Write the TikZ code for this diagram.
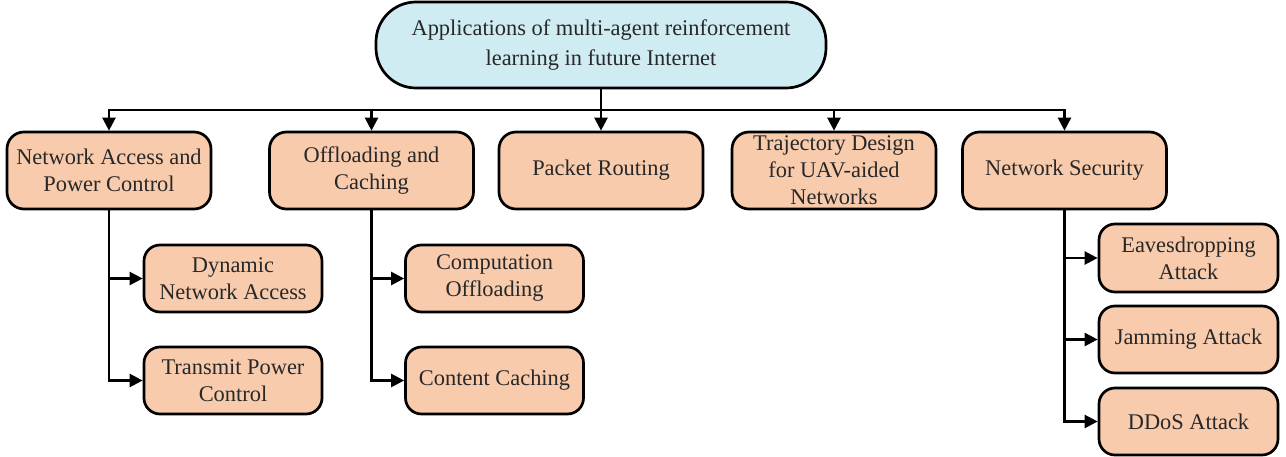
\documentclass[tikz,border=0pt]{standalone}
\usepackage{fontspec}
\setmainfont{Liberation Serif}
\usetikzlibrary{arrows.meta}
\definecolor{rootfill}{RGB}{208,236,243}
\definecolor{boxfill}{RGB}{248,203,173}
\definecolor{txt}{RGB}{40,40,40}
\tikzset{
  base/.style={draw=black, line width=2.7pt, align=center, text=txt, inner sep=2pt,
    font=\fontsize{22.4}{27}\selectfont},
  rootbox/.style={base, fill=rootfill, rounded corners=40pt, minimum width=450pt, minimum height=86pt,
    font=\fontsize{22.4}{30}\selectfont},
  topbox/.style={base, fill=boxfill, rounded corners=17pt, minimum width=204pt, minimum height=77pt},
  subbox/.style={base, fill=boxfill, rounded corners=16pt, minimum width=178pt, minimum height=67pt},
  conn/.style={draw=black, line width=2.4pt},
  arr/.style={conn, -{Triangle[length=13pt,width=13pt]}}
}
\begin{document}
\begin{tikzpicture}[x=1pt,y=-1pt]
\useasboundingbox (0,0) rectangle (1286,457);
\node[rootbox] (root) at (601,45) {Applications of multi-agent reinforcement\\learning in future Internet};
\node[topbox] (c1) at (109,170.5) {Network Access and\\Power Control};
\node[topbox] (c2) at (371.5,170.5) {Offloading and\\Caching};
\node[topbox] (c3) at (601,170.5) {Packet Routing};
\node[topbox, label={[base, draw=none, fill=none]center:Trajectory Design\\for UAV-aided\\Networks}] (c4) at (834,170.5) {};
\node[topbox] (c5) at (1064.5,170.5) {Network Security};
\node[subbox] (s1) at (233,278.5) {Dynamic\\Network Access};
\node[subbox] (s2) at (233,380.5) {Transmit Power\\Control};
\node[subbox] (s3) at (494.5,278.5) {Computation\\Offloading};
\node[subbox] (s4) at (494.5,380.5) {Content Caching};
\node[subbox, minimum width=179pt, minimum height=68pt] (e1) at (1188.5,258) {Eavesdropping\\Attack};
\node[subbox, minimum width=179pt] (e2) at (1188.5,339.5) {Jamming Attack};
\node[subbox, minimum width=179pt] (e3) at (1188.5,421.5) {DDoS Attack};
\coordinate (bus) at (601,110);
\draw[conn] (root.south) -- (bus);
\foreach \c in {c1,c2,c3,c4,c5} {\draw[arr] (bus) -| (\c.north);}
\draw[arr] (c1.south) |- (s1.west);
\draw[arr] (c1.south) |- (s2.west);
\draw[arr] (c2.south) |- (s3.west);
\draw[arr] (c2.south) |- (s4.west);
\draw[arr] (c5.south) |- (e1.west);
\draw[arr] (c5.south) |- (e2.west);
\draw[arr] (c5.south) |- (e3.west);
\end{tikzpicture}
\end{document}
